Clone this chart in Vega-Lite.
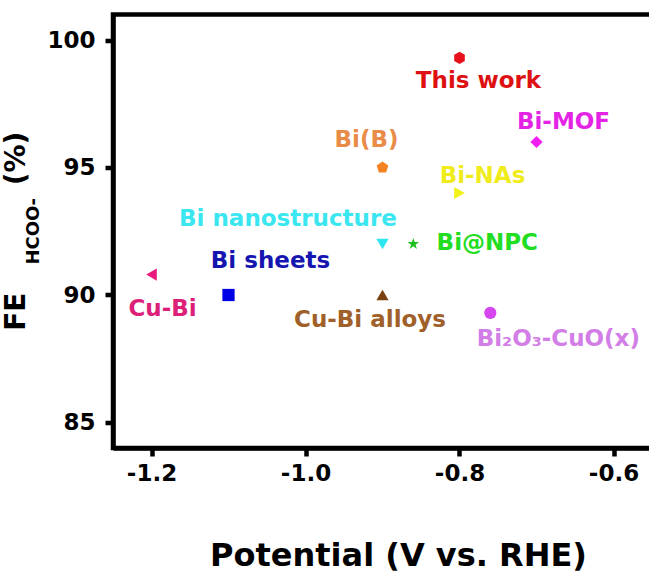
{
  "$schema": "https://vega.github.io/schema/vega-lite/v6.json",
  "autosize": {"type": "none"},
  "padding": {"left": 113, "top": 14.5, "right": 0, "bottom": 134},
  "width": 539,
  "height": 433.5,
  "background": "white",
  "title": {
    "text": "FE\u00a0\u00a0\u00a0\u00a0\u00a0\u00a0\u00a0\u00a0\u00a0\u00a0\u00a0(%)",
    "subtitle": "HCOO-",
    "orient": "left",
    "anchor": "middle",
    "offset": 4,
    "font": "DejaVu Sans",
    "fontWeight": "bold",
    "fontSize": 28,
    "color": "black",
    "subtitleFont": "DejaVu Sans",
    "subtitleFontWeight": "bold",
    "subtitleFontSize": 18,
    "subtitleColor": "black",
    "subtitlePadding": -6
  },
  "config": {
    "view": {"stroke": "black", "strokeWidth": 4.5},
    "axis": {
      "grid": false,
      "domainColor": "black",
      "domainWidth": 4.5,
      "tickColor": "black",
      "tickWidth": 4.5,
      "tickSize": 8,
      "labelFont": "DejaVu Sans",
      "labelFontWeight": "bold",
      "labelFontSize": 23,
      "labelColor": "black",
      "titleFont": "DejaVu Sans",
      "titleFontWeight": "bold",
      "titleColor": "black"
    }
  },
  "data": {
    "values": [
      {"material": "This work", "potential": -0.80, "fe": 99.3},
      {"material": "Bi-MOF", "potential": -0.70, "fe": 96.0},
      {"material": "Bi(B)", "potential": -0.90, "fe": 95.0},
      {"material": "Bi-NAs", "potential": -0.80, "fe": 94.0},
      {"material": "Bi nanostructure", "potential": -0.90, "fe": 92.0},
      {"material": "Bi@NPC", "potential": -0.86, "fe": 92.0},
      {"material": "Cu-Bi", "potential": -1.20, "fe": 90.8},
      {"material": "Bi sheets", "potential": -1.10, "fe": 90.0},
      {"material": "Cu-Bi alloys", "potential": -0.90, "fe": 90.0},
      {"material": "Bi₂O₃-CuO(x)", "potential": -0.76, "fe": 89.3}
    ]
  },
  "encoding": {
    "x": {"field": "potential", "type": "quantitative",
          "scale": {"domain": [-1.25, -0.55], "nice": false, "zero": false},
          "axis": {"orient": "bottom", "values": [-1.2, -1.0, -0.8, -0.6],
                   "labelExpr": "replace(format(datum.value, '.1f'), '−', '-')",
                   "labelPadding": 6, "title": "Potential (V vs. RHE)", "titleFontSize": 32, "titlePadding": 55, "titleX": 285}},
    "y": {"field": "fe", "type": "quantitative",
          "scale": {"domain": [84, 101], "nice": false, "zero": false},
          "axis": {"orient": "left", "values": [85, 90, 95, 100], "labelPadding": 10, "title": null}}
  },
  "layer": [
    {
      "mark": {"type": "point", "filled": true, "opacity": 1, "size": 150},
      "encoding": {
        "color": {"field": "material", "type": "nominal", "legend": null,
                  "scale": {"domain": ["This work", "Bi-MOF", "Bi(B)", "Bi-NAs", "Bi nanostructure", "Bi@NPC", "Cu-Bi", "Bi sheets", "Cu-Bi alloys", "Bi₂O₃-CuO(x)"],
                            "range": ["#e8101c", "#f01ef0", "#f58220", "#f2f21a", "#2ee6f0", "#1fbf1f", "#e8197a", "#0000e6", "#7a4010", "#d545f0"]}},
        "shape": {"field": "material", "type": "nominal", "legend": null,
                  "scale": {"domain": ["This work", "Bi-MOF", "Bi(B)", "Bi-NAs", "Bi nanostructure", "Bi@NPC", "Cu-Bi", "Bi sheets", "Cu-Bi alloys", "Bi₂O₃-CuO(x)"],
                            "range": ["M0,-1L0.866,-0.5L0.866,0.5L0,1L-0.866,0.5L-0.866,-0.5Z", "diamond", "M0,-1L0.951,-0.309L0.588,0.809L-0.588,0.809L-0.951,-0.309Z", "triangle-right", "triangle-down", "M0,-1L0.2245,-0.309L0.951,-0.309L0.3633,0.118L0.588,0.809L0,0.382L-0.588,0.809L-0.3633,0.118L-0.951,-0.309L-0.2245,-0.309Z", "triangle-left", "square", "triangle-up", "circle"]}}
      }
    },
    {"transform": [{"filter": "datum.material == 'This work'"}],
     "mark": {"type": "text", "font": "DejaVu Sans", "fontWeight": "bold", "fontSize": 23, "align": "center", "baseline": "middle", "color": "#dd1111", "dx": 19, "dy": 23.5},
     "encoding": {"text": {"field": "material"}}},
    {"transform": [{"filter": "datum.material == 'Bi-MOF'"}],
     "mark": {"type": "text", "font": "DejaVu Sans", "fontWeight": "bold", "fontSize": 23, "align": "center", "baseline": "middle", "color": "#e424e4", "dx": 27, "dy": -20.5},
     "encoding": {"text": {"field": "material"}}},
    {"transform": [{"filter": "datum.material == 'Bi(B)'"}],
     "mark": {"type": "text", "font": "DejaVu Sans", "fontWeight": "bold", "fontSize": 23, "align": "center", "baseline": "middle", "color": "#e88c48", "dx": -16, "dy": -27.5},
     "encoding": {"text": {"field": "material"}}},
    {"transform": [{"filter": "datum.material == 'Bi-NAs'"}],
     "mark": {"type": "text", "font": "DejaVu Sans", "fontWeight": "bold", "fontSize": 23, "align": "center", "baseline": "middle", "color": "#f0ec1c", "dx": 23, "dy": -17},
     "encoding": {"text": {"field": "material"}}},
    {"transform": [{"filter": "datum.material == 'Bi nanostructure'"}],
     "mark": {"type": "text", "font": "DejaVu Sans", "fontWeight": "bold", "fontSize": 23, "align": "center", "baseline": "middle", "color": "#3ae6f0", "dx": -94.5, "dy": -25.5},
     "encoding": {"text": {"field": "material"}}},
    {"transform": [{"filter": "datum.material == 'Bi@NPC'"}],
     "mark": {"type": "text", "font": "DejaVu Sans", "fontWeight": "bold", "fontSize": 23, "align": "center", "baseline": "middle", "color": "#22dd22", "dx": 74, "dy": -1.5},
     "encoding": {"text": {"field": "material"}}},
    {"transform": [{"filter": "datum.material == 'Cu-Bi'"}],
     "mark": {"type": "text", "font": "DejaVu Sans", "fontWeight": "bold", "fontSize": 23, "align": "center", "baseline": "middle", "color": "#dc2078", "dx": 11, "dy": 34.4},
     "encoding": {"text": {"field": "material"}}},
    {"transform": [{"filter": "datum.material == 'Bi sheets'"}],
     "mark": {"type": "text", "font": "DejaVu Sans", "fontWeight": "bold", "fontSize": 23, "align": "center", "baseline": "middle", "color": "#1515b0", "dx": 42, "dy": -34.5},
     "encoding": {"text": {"field": "material"}}},
    {"transform": [{"filter": "datum.material == 'Cu-Bi alloys'"}],
     "mark": {"type": "text", "font": "DejaVu Sans", "fontWeight": "bold", "fontSize": 23, "align": "center", "baseline": "middle", "color": "#a0602a", "dx": -12.5, "dy": 24.5},
     "encoding": {"text": {"field": "material"}}},
    {"transform": [{"filter": "datum.material == 'Bi₂O₃-CuO(x)'"}],
     "mark": {"type": "text", "font": "DejaVu Sans", "fontWeight": "bold", "fontSize": 23, "align": "center", "baseline": "middle", "color": "#d27ee6", "dx": 68, "dy": 26},
     "encoding": {"text": {"field": "material"}}}
  ]
}
